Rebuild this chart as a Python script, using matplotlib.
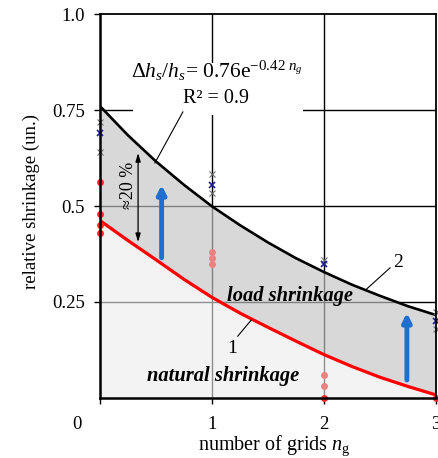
import matplotlib
matplotlib.use("Agg")
import matplotlib.pyplot as plt
from matplotlib.patches import Rectangle

plt.rcParams['font.family'] = ['Liberation Serif', 'DejaVu Serif']
plt.rcParams['mathtext.fontset'] = 'custom'
plt.rcParams['mathtext.rm'] = 'Liberation Serif'
plt.rcParams['mathtext.it'] = 'Liberation Serif:italic'

# fitted curves
n_fit = [0, 0.25, 0.5, 0.75, 1.0, 1.25, 1.5, 1.75, 2.0, 2.25, 2.5, 2.75, 3.0]
load_fit = [0.760, 0.684, 0.616, 0.555, 0.499, 0.450, 0.405, 0.364, 0.328,
            0.295, 0.266, 0.239, 0.216]
natural_fit = [0.462, 0.410, 0.360, 0.309, 0.262, 0.221, 0.184, 0.148, 0.113,
               0.082, 0.054, 0.030, 0.008]

# measured points, load shrinkage (crosses)
load_n_gray = [0, 0, 1, 1, 2, 3, 3]
load_v_gray = [0.719, 0.641, 0.583, 0.533, 0.360, 0.224, 0.180]
load_n_blue = [0, 1, 2, 3]
load_v_blue = [0.690, 0.555, 0.350, 0.200]

# measured points, natural shrinkage (dots)
nat_n_red = [0, 0, 0, 0, 2, 3]
nat_v_red = [0.563, 0.480, 0.450, 0.430, 0.000, 0.000]
nat_n_pink = [1, 1, 1, 2, 2]
nat_v_pink = [0.380, 0.365, 0.350, 0.060, 0.030]

# blue arrows (x, from, to) and the 20 % bracket
blue_arrows = [(0.55, 0.365, 0.555), (2.74, 0.047, 0.222)]
bracket = (0.34, 0.406, 0.638)

yticks = [0.25, 0.5, 0.75, 1.0]
ytick_labels = ['0.25', '0.5', '0.75', '1.0']
xticks = [0, 1, 2, 3]
xtick_labels = ['', '1', '2', '3']

fig = plt.figure(figsize=(4.38, 4.58), dpi=100)
ax = fig.add_axes([100/438, 60/458, 336/438, 384/458])
ax.set_xlim(0, 3)
ax.set_ylim(0, 1)

# grid, drawn black; the translucent fills turn it grey underneath
for g in [1, 2]:
    ax.axvline(g, color='black', lw=1.0, zorder=1)
for g in [0.25, 0.5, 0.75]:
    ax.axhline(g, color='black', lw=1.0, zorder=1)

ax.fill_between(n_fit, 0, natural_fit, color='#ececec', alpha=0.6, lw=0, zorder=2)
ax.fill_between(n_fit, natural_fit, load_fit, color='#c4c4c4', alpha=0.65, lw=0, zorder=2)

# white box behind equation
ax.add_patch(Rectangle((0.295, 0.737), 1.515, 0.135, facecolor='white',
                       edgecolor='none', zorder=3))

ax.plot(n_fit, load_fit, color='black', lw=1.9, zorder=5)
ax.plot(n_fit, natural_fit, color='#ff0000', lw=2.3, zorder=5)

ax.plot(load_n_gray, load_v_gray, 'x', color='#707070', ms=4, mew=0.8,
        clip_on=False, zorder=6)
ax.plot(load_n_blue, load_v_blue, 'x', color='#1c1c8a', ms=4, mew=1.2,
        clip_on=False, zorder=6)
ax.plot(nat_n_pink, nat_v_pink, 'o', color='#ee8080', ms=5, mew=0,
        clip_on=False, zorder=6)
ax.plot(nat_n_red, nat_v_red, 'o', color='#ff2a2a', ms=5, mew=0,
        clip_on=False, zorder=6)

for bx, b0, b1 in blue_arrows:
    ax.annotate('', xy=(bx, b1), xytext=(bx, b0), zorder=6,
                arrowprops=dict(arrowstyle='-|>,head_length=0.5,head_width=0.25',
                                color='#1f6fd0', lw=3.5, shrinkA=0, shrinkB=0))

bx, b0, b1 = bracket
ax.annotate('', xy=(bx, b1), xytext=(bx, b0), zorder=6,
            arrowprops=dict(arrowstyle='<|-|>,head_length=0.5,head_width=0.15',
                            color='black', lw=0.9, shrinkA=0, shrinkB=0))
ax.text(0.255, 0.555, '≈20 %', rotation=90, ha='center', va='center',
        fontsize=13, zorder=6)

ax.text(1.04, 0.852, r'$\mathit{Δh_s/h_s}$= 0.76e$^{-0.42\ \mathit{n_g}}$',
        ha='center', va='center', fontsize=15.5, zorder=6)
ax.text(1.04, 0.781, 'R² = 0.9', ha='center', va='center', fontsize=14.5, zorder=6)
ax.plot([0.74, 0.49], [0.745, 0.612], color='black', lw=0.8, zorder=6)

ax.text(2.66, 0.352, '2', ha='center', va='center', fontsize=14, zorder=6)
ax.plot([2.59, 2.37], [0.339, 0.281], color='black', lw=0.8, zorder=6)
ax.text(1.18, 0.128, '1', ha='center', va='center', fontsize=14, zorder=6)
ax.plot([1.23, 1.35], [0.161, 0.203], color='black', lw=0.8, zorder=6)

ax.text(1.70, 0.266, 'load shrinkage', ha='center', va='center', fontsize=14.8,
        fontweight='bold', fontstyle='italic', zorder=6)
ax.text(1.10, 0.057, 'natural shrinkage', ha='center', va='center', fontsize=14.8,
        fontweight='bold', fontstyle='italic', zorder=6)

ax.set_yticks(yticks)
ax.set_yticklabels(ytick_labels, fontsize=13.5)
ax.set_xticks(xticks)
ax.set_xticklabels(xtick_labels, fontsize=13.5)
ax.tick_params(direction='out', length=4, width=1)
ax.tick_params(axis='x', pad=9)
ax.tick_params(axis='y', pad=7)
ax.text(-0.068, -0.068, '0', transform=ax.transAxes, ha='center', va='center',
        fontsize=13.5, clip_on=False)

ax.set_ylabel('relative shrinkage (un.)', fontsize=13.5)
ax.yaxis.set_label_coords(-0.18, 0.513)
ax.set_xlabel(r'number of grids $\mathit{n}_\mathrm{g}$', fontsize=14.5)
ax.xaxis.set_label_coords(0.52, -0.092)

for side in ['left', 'bottom']:
    ax.spines[side].set_linewidth(1.8)
for side in ['top', 'right']:
    ax.spines[side].set_linewidth(1.3)
for s in ax.spines.values():
    s.set_zorder(7)

fig.savefig('out.png', dpi=100)
